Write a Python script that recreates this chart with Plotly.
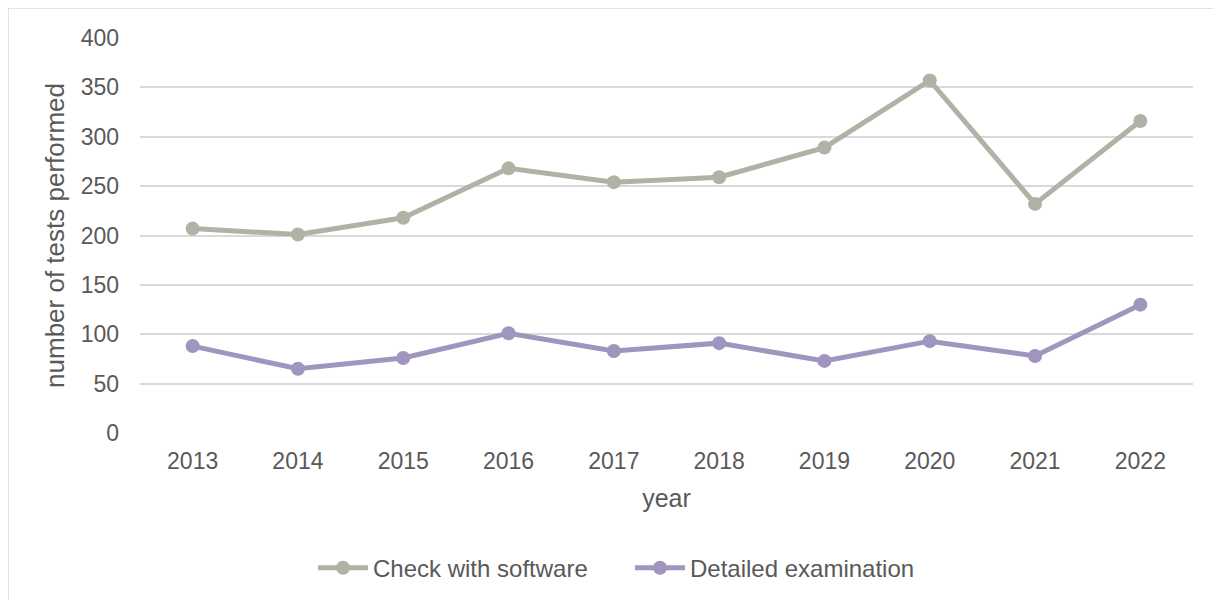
import plotly.graph_objects as go

years = ["2013", "2014", "2015", "2016", "2017", "2018", "2019", "2020", "2021", "2022"]
check_software = [207, 201, 218, 268, 254, 259, 289, 357, 232, 316]
detailed_exam = [88, 65, 76, 101, 83, 91, 73, 93, 78, 130]
y_ticks = [0, 50, 100, 150, 200, 250, 300, 350, 400]

GRAY = "#B1B2A6"
PURPLE = "#A095BF"
TXT = "#595959"

L, T, PW, PH = 132, 30, 1053, 395
W, H = 1221, 600

fig = go.Figure()
fig.add_trace(go.Scatter(x=years, y=check_software, name="Check with software",
                         mode="lines+markers", line=dict(color=GRAY, width=5),
                         marker=dict(color=GRAY, size=14)))
fig.add_trace(go.Scatter(x=years, y=detailed_exam, name="Detailed examination",
                         mode="lines+markers", line=dict(color=PURPLE, width=5),
                         marker=dict(color=PURPLE, size=14)))

fig.update_layout(
    width=W, height=H,
    margin=dict(l=L, r=W - L - PW, t=T, b=H - T - PH),
    paper_bgcolor="white", plot_bgcolor="white",
    font=dict(family="Liberation Sans, Arial, sans-serif", color=TXT, size=23),
    showlegend=True,
    legend=dict(orientation="h", x=(305 - L) / PW, xanchor="left", y=-0.342, yanchor="middle",
                font=dict(size=24, color=TXT), tracegroupgap=0, itemwidth=50,
                entrywidth=252, entrywidthmode="pixels"),
    xaxis=dict(type="category", range=[-0.5, 9.5], showgrid=False, showline=False,
               ticks="", tickfont=dict(size=23, color=TXT), ticklabelstandoff=12,
               title=dict(text="year", font=dict(size=25, color=TXT), standoff=16)),
    yaxis=dict(range=[0, 400], tickvals=y_ticks, showgrid=True, gridcolor="#D9D9D9",
               gridwidth=2, zeroline=False, showline=False, ticks="",
               tickfont=dict(size=23, color=TXT), ticklabelstandoff=20,
               title=dict(text="number of tests performed", font=dict(size=26, color=TXT), standoff=8)),
    shapes=[dict(type="rect", xref="paper", yref="paper",
                 x0=(0 - L) / PW, x1=(1207 - L) / PW,
                 y0=(PH - 640) / PH, y1=(PH + T) / PH,
                 line=dict(color="#D9D9D9", width=1.5), fillcolor="rgba(0,0,0,0)", layer="below")],
)

fig.write_html("out.html")
